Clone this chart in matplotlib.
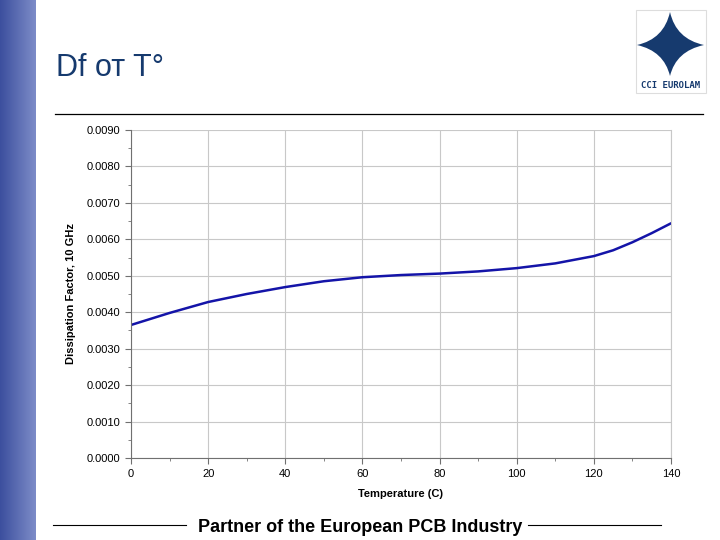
"""Dissipation factor vs temperature slide (Df от T°)."""

import matplotlib.pyplot as plt
import numpy as np
from matplotlib.colors import LinearSegmentedColormap
from matplotlib.patches import PathPatch, Rectangle
from matplotlib.path import Path
from matplotlib.ticker import FormatStrFormatter, MultipleLocator

# readings
temperature = [0, 10, 20, 30, 40, 50, 60, 70, 80, 90, 100, 110, 120, 125, 130, 135, 140]
dissipation = [0.00365, 0.00398, 0.00428, 0.00450, 0.00469, 0.00485, 0.00496,
               0.00502, 0.00506, 0.00512, 0.00521, 0.00534, 0.00554, 0.00570,
               0.00592, 0.00617, 0.00644]

title_text = "Df от T°"
footer_text = "Partner of the European PCB Industry"
logo_text = "CCI EUROLAM"

DARK_BLUE = "#163a6e"
LINE_BLUE = "#1414a8"

plt.rcParams["font.family"] = ["Liberation Sans", "DejaVu Sans"]

fig = plt.figure(figsize=(7.2, 5.4), dpi=100)
W, H = 720, 540


def fx(px):
    return px / W


def fy(py):
    return 1 - py / H


# left gradient band
band = fig.add_axes([0, 0, fx(36), 1])
grad = np.linspace(0, 1, 64).reshape(1, -1)
band.imshow(grad, aspect="auto", extent=[0, 1, 0, 1],
            cmap=LinearSegmentedColormap.from_list("band", ["#3c4f9e", "#7d8cc8"]))
band.set_axis_off()

# title and rule
fig.text(fx(56), fy(68), title_text, fontsize=22, color=DARK_BLUE,
         va="center", ha="left")
fig.add_artist(plt.Line2D([fx(55), fx(703)], [fy(114), fy(114)],
                          color="black", lw=0.9, transform=fig.transFigure))

# logo: four-pointed star with concave sides
fig.add_artist(Rectangle((fx(636), fy(93)), fx(70), 83 / H, fill=False,
                         edgecolor="#dddddd", lw=0.8, transform=fig.transFigure))
cx, cy = 670, 45
tips = [(cx, 12), (cx + 34, cy), (cx, 76), (cx - 33, cy)]
ctrls = [(cx + 6, cy - 6), (cx + 6, cy + 6), (cx - 6, cy + 6), (cx - 6, cy - 6)]
verts, codes = [tips[0]], [Path.MOVETO]
for k in range(4):
    verts += [ctrls[k], tips[(k + 1) % 4]]
    codes += [Path.CURVE3, Path.CURVE3]
verts = [(fx(x), fy(y)) for x, y in verts]
fig.add_artist(PathPatch(Path(verts, codes), facecolor=DARK_BLUE,
                         edgecolor="none", transform=fig.transFigure))
fig.text(fx(671), fy(85), logo_text, fontsize=6.5, color=DARK_BLUE,
         ha="center", va="center", family="DejaVu Sans Mono", fontweight="bold")

# chart
ax = fig.add_axes([fx(131), fy(458), fx(671 - 131), (458 - 130) / H])
ax.plot(temperature, dissipation, color=LINE_BLUE, lw=1.8, solid_capstyle="round")
ax.set_xlim(0, 140)
ax.set_ylim(0, 0.009)
ax.xaxis.set_major_locator(MultipleLocator(20))
ax.xaxis.set_minor_locator(MultipleLocator(10))
ax.yaxis.set_major_locator(MultipleLocator(0.001))
ax.yaxis.set_minor_locator(MultipleLocator(0.0005))
ax.yaxis.set_major_formatter(FormatStrFormatter("%.4f"))
ax.grid(True, which="major", color="#c8c8c8", lw=0.8)
ax.set_axisbelow(True)
ax.spines["top"].set_visible(False)
ax.spines["right"].set_color("#c8c8c8")
ax.spines["left"].set_color("#707070")
ax.spines["bottom"].set_color("#707070")
ax.tick_params(which="both", direction="out", color="#707070", labelsize=8,
               pad=4)
ax.tick_params(which="major", length=4)
ax.tick_params(which="minor", length=2)
ax.set_xlabel("Temperature (C)", fontsize=8, fontweight="bold", labelpad=7)
ax.set_ylabel("Dissipation Factor, 10 GHz", fontsize=8, fontweight="bold",
              labelpad=7)

# footer
fig.text(fx(360), fy(527), footer_text, fontsize=13, fontweight="bold",
         ha="center", va="center")
fig.add_artist(plt.Line2D([fx(53), fx(186)], [fy(525), fy(525)],
                          color="black", lw=0.8, transform=fig.transFigure))
fig.add_artist(plt.Line2D([fx(528), fx(661)], [fy(525), fy(525)],
                          color="black", lw=0.8, transform=fig.transFigure))

fig.savefig("out.png", dpi=100)
